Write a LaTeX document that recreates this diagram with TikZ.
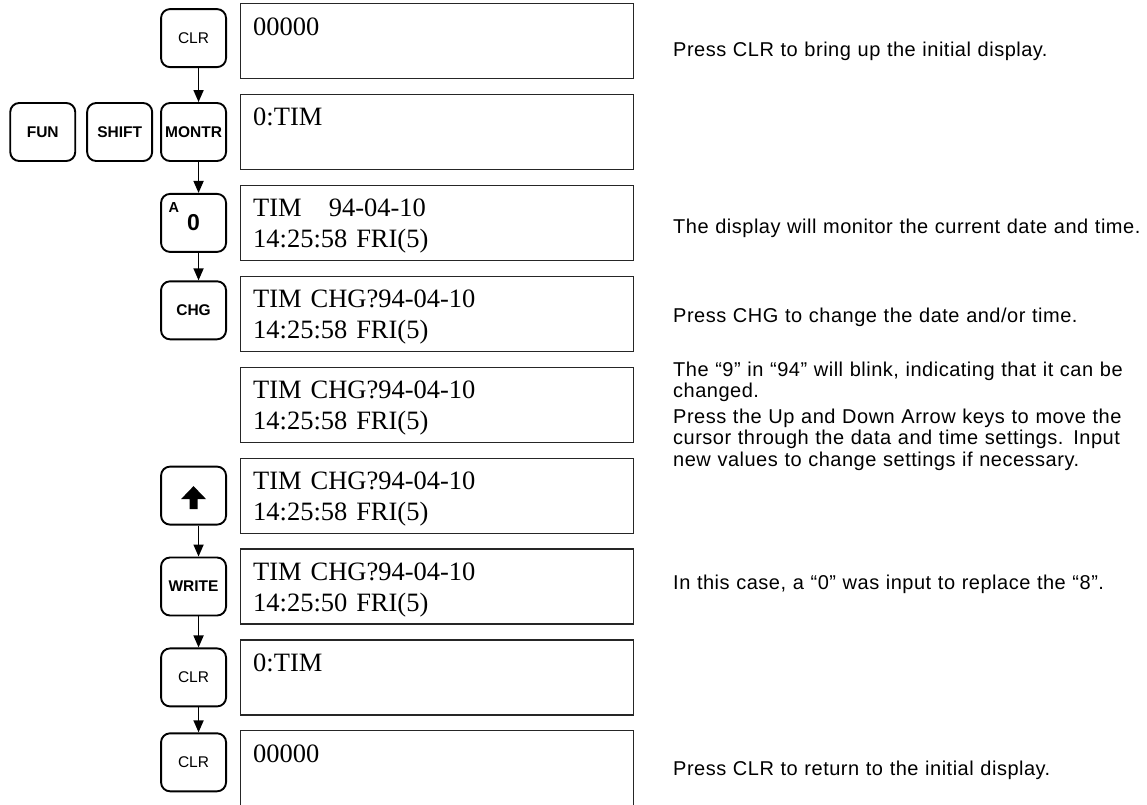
\documentclass[tikz,border=0pt]{standalone}
\usepackage{fontspec}
\newfontfamily\keyfont{Liberation Sans}
\newfontfamily\notefont{Liberation Sans}[LetterSpace=2.5]
\newfontfamily\scrfont{Liberation Serif}
\usetikzlibrary{arrows.meta,positioning}
\begin{document}
\begin{tikzpicture}[x=1pt, y=-1pt, key/.style={draw, line width=1.9pt, rounded corners=9pt, minimum width=65pt, minimum height=58pt, inner sep=0pt, font=\keyfont\fontsize{15.5}{16}\selectfont}, bkey/.style={key, font=\keyfont\bfseries\fontsize{15.5}{16}\selectfont}, scr/.style={draw=black!85, line width=1.2pt, minimum width=393pt, minimum height=75pt, inner sep=0pt}, stxt/.style={anchor=base west, inner sep=0pt, text width=360pt, align=left, font=\scrfont\fontsize{26.5}{31}\selectfont}, note/.style={anchor=base west, inner sep=0pt, text width=520pt, align=left, font=\notefont\fontsize{20}{21.5}\selectfont}, arrow/.style={-{Triangle[length=12pt,width=10pt]}, line width=1.6pt}]
\useasboundingbox (0,0) rectangle (1147,804);
% display panels
\node[scr, anchor=north west] (d1) at (240,3) {};
\node[scr, below=14.7pt of d1] (d2) {};
\node[scr, below=14.7pt of d2] (d3) {};
\node[scr, below=14.7pt of d3] (d4) {};
\node[scr, below=14.7pt of d4] (d5) {};
\node[scr, below=14.7pt of d5] (d6) {};
\node[scr, below=14.7pt of d6] (d7) {};
\node[scr, below=14.7pt of d7] (d8) {};
\node[scr, below=14.7pt of d8] (d9) {};
\node[stxt] (t1) at ([shift={(13,32)}]d1.north west) {00000};
\node[stxt] (t2) at ([shift={(13,32)}]d2.north west) {0:TIM};
\node[stxt] (t3) at ([shift={(13,32)}]d3.north west) {TIM\hspace{27pt}94-04-10\\14:25:58 FRI(5)};
\node[stxt] (t4) at ([shift={(13,32)}]d4.north west) {TIM CHG?94-04-10\\14:25:58 FRI(5)};
\node[stxt] (t5) at ([shift={(13,32)}]d5.north west) {TIM CHG?94-04-10\\14:25:58 FRI(5)};
\node[stxt] (t6) at ([shift={(13,32)}]d6.north west) {TIM CHG?94-04-10\\14:25:58 FRI(5)};
\node[stxt] (t7) at ([shift={(13,32)}]d7.north west) {TIM CHG?94-04-10\\14:25:50 FRI(5)};
\node[stxt] (t8) at ([shift={(13,32)}]d8.north west) {0:TIM};
\node[stxt] (t9) at ([shift={(13,32)}]d9.north west) {00000};
% keys
\node[key, left=13pt of d1, yshift=3pt] (clr1) {CLR};
\node[bkey, left=13pt of d2] (montr) {MONTR};
\node[bkey, left=7pt of montr] (shift) {SHIFT};
\node[bkey, left=10pt of shift] (fun) {FUN};
\node[key, left=13pt of d3] (a0) {\llap{\raisebox{18pt}[0pt][0pt]{\bfseries\fontsize{14.5}{14}\selectfont A}\hspace{8pt}}{\bfseries\fontsize{23}{22}\selectfont 0}};
\node[bkey, left=13pt of d4, yshift=3.5pt] (chg) {CHG};
\node[key, left=13pt of d6] (up) {};
\fill[shift={(up.center)}] (0,-9.5) -- (12.5,3.5) -- (4,3.5) -- (4,13.5) -- (-4,13.5) -- (-4,3.5) -- (-12.5,3.5) -- cycle;
\node[bkey, left=13pt of d7] (write) {WRITE};
\node[key, left=13pt of d8] (clr2) {CLR};
\node[key, left=13pt of d9, yshift=6pt] (clr3) {CLR};
\draw[arrow] ([xshift=5pt]clr1.south) -- ([xshift=5pt]montr.north); \draw[arrow] ([xshift=5pt]montr.south) -- ([xshift=5pt]a0.north); \draw[arrow] ([xshift=5pt]a0.south) -- ([xshift=5pt]chg.north);
\draw[arrow] ([xshift=5pt]up.south) -- ([xshift=5pt]write.north); \draw[arrow] ([xshift=5pt]write.south) -- ([xshift=5pt]clr2.north); \draw[arrow] ([xshift=5pt]clr2.south) -- ([xshift=5pt]clr3.north);
% notes
\node[note] (n1) at (673,56) {Press CLR to bring up the initial display.};
\node[note] (n2) at (673,233) {The display will monitor the current date and time.};
\node[note] (n3) at (673,322) {Press CHG to change the date and/or time.};
\node[note] (n4) at (673,376) {The “9” in “94” will blink, indicating that it can be\\changed.};
\node[note] (n5) at (673,423) {Press the Up and Down Arrow keys to move the\\cursor through the data and time settings. Input\\new values to change settings if necessary.};
\node[note] (n6) at (673,589) {In this case, a “0” was input to replace the “8”.};
\node[note] (n7) at (673,775) {Press CLR to return to the initial display.};
\end{tikzpicture}
\end{document}
